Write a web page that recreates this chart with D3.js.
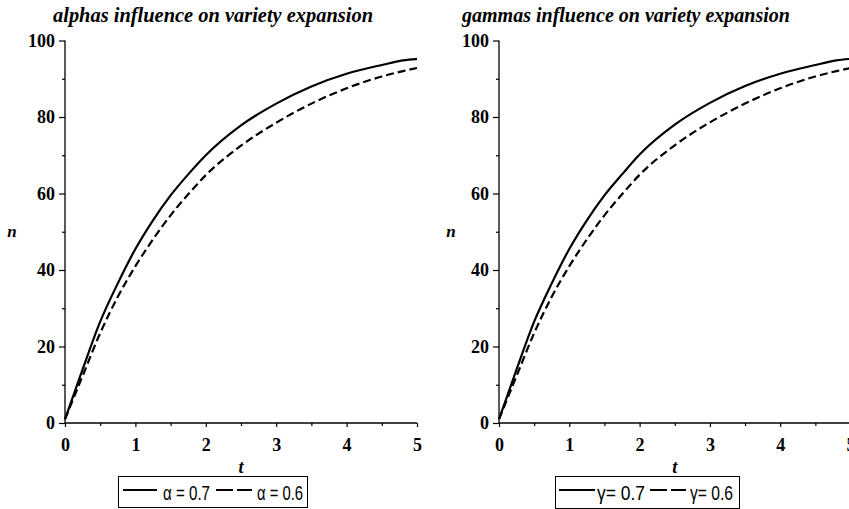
<!DOCTYPE html>
<html>
<head>
<meta charset="utf-8">
<script src="https://cdn.jsdelivr.net/npm/d3@7"></script>
<style>
  html, body { margin: 0; padding: 0; background: #fff; }
  svg { display: block; }
</style>
</head>
<body>
<svg id="chart" width="849" height="509"></svg>
<script>
// ---- data ----
const tValues   = [0, 0.25, 0.5, 0.75, 1, 1.25, 1.5, 1.75, 2, 2.5, 3, 3.5, 4, 4.5, 4.8, 5];
const alphaHigh = [1, 14, 26.5, 36.5, 45.5, 53, 59.5, 65, 70, 77.8, 83.5, 88, 91.3, 93.6, 94.8, 95.2];
const alphaLow  = [1, 12.3, 23.5, 33, 41, 48, 54.3, 59.8, 64.8, 72.5, 78.5, 83.5, 87.5, 90.6, 92, 92.8];
const gammaHigh = [1, 14, 26.5, 36.5, 45.5, 53, 59.5, 65, 70.2, 78, 83.7, 88.1, 91.3, 93.6, 94.8, 95.2];
const gammaLow  = [1, 12.3, 23.5, 33, 41, 48, 54.3, 59.8, 64.9, 72.6, 78.6, 83.5, 87.5, 90.6, 92, 92.8];
const xMajorTicks = [0, 1, 2, 3, 4, 5];
const xMinorTicks = [0.5, 1.5, 2.5, 3.5, 4.5];
const yMajorTicks = [0, 20, 40, 60, 80, 100];
const yMinorTicks = [10, 30, 50, 70, 90];
const titles = ["alphas influence on variety expansion", "gammas influence on variety expansion"];
const legendLabels = [["α = 0.7", "α = 0.6"], ["γ= 0.7", "γ= 0.6"]];

const svg = d3.select("#chart");
const serif = "'Liberation Serif', 'Times New Roman', serif";
const sans = "'Liberation Sans', Arial, sans-serif";

const panels = [
  { x0: 65, x1: 417, high: alphaHigh, low: alphaLow, title: titles[0], titleX: 53, titleW: 320,
    nX: 12, legend: legendLabels[0],
    box: [118, 476, 189, 31], solid: [123, 157], t1: [163, 47], dash: [216, 252], t2: [257, 46] },
  { x0: 499, x1: 850.5, high: gammaHigh, low: gammaLow, title: titles[1], titleX: 462, titleW: 328,
    nX: 451, legend: legendLabels[1],
    box: [555, 476, 184, 32], solid: [559, 595], t1: [597, 48], dash: [650, 686], t2: [690, 43] }
];

const yTop = 40.5, yBot = 423;

panels.forEach(p => {
  const x = d3.scaleLinear().domain([0, 5]).range([p.x0, p.x1]);
  const y = d3.scaleLinear().domain([0, 100]).range([yBot, yTop]);
  const g = svg.append("g");

  // title
  g.append("text")
    .attr("x", p.titleX).attr("y", 22)
    .attr("textLength", p.titleW).attr("lengthAdjust", "spacingAndGlyphs")
    .style("font-family", serif).style("font-weight", "bold").style("font-style", "italic")
    .style("font-size", "20px").text(p.title);

  // y axis
  const yAxis = g.append("g").attr("transform", `translate(${p.x0},0)`)
    .call(d3.axisLeft(y).tickValues(yMajorTicks).tickSize(6).tickPadding(4).tickFormat(d3.format("d")));
  g.append("g").attr("transform", `translate(${p.x0},0)`)
    .call(d3.axisLeft(y).tickValues(yMinorTicks).tickSize(3).tickFormat(""))
    .select(".domain").remove();

  // x axis
  const xAxis = g.append("g").attr("transform", `translate(0,${yBot})`)
    .call(d3.axisBottom(x).tickValues(xMajorTicks).tickSize(4).tickPadding(11).tickFormat(d3.format("d")));
  g.append("g").attr("transform", `translate(0,${yBot})`)
    .call(d3.axisBottom(x).tickValues(xMinorTicks).tickSize(3).tickFormat(""))
    .select(".domain").remove();

  yAxis.select(".domain").remove();
  xAxis.select(".domain").remove();
  g.append("line").attr("x1", p.x0).attr("x2", p.x0).attr("y1", y(100)).attr("y2", y(0))
    .attr("stroke", "#000").attr("stroke-width", 1.3);
  g.append("line").attr("x1", x(0)).attr("x2", x(5)).attr("y1", y(0)).attr("y2", y(0))
    .attr("stroke", "#000").attr("stroke-width", 1.3);

  g.selectAll(".tick line").attr("stroke", "#000").attr("stroke-width", 1.2);
  g.selectAll(".tick text")
    .style("font-family", serif).style("font-weight", "bold").style("font-size", "18px").attr("fill", "#000");

  // axis labels
  g.append("text").attr("x", (p.x0 + p.x1) / 2).attr("y", 473).attr("text-anchor", "middle")
    .style("font-family", serif).style("font-weight", "bold").style("font-style", "italic")
    .style("font-size", "18px").text("t");
  g.append("text").attr("x", p.nX).attr("y", 237).attr("text-anchor", "middle")
    .style("font-family", serif).style("font-weight", "bold").style("font-style", "italic")
    .style("font-size", "17px").text("n");

  // curves
  const line = d3.line().x((d, i) => x(tValues[i])).y(d => y(d)).curve(d3.curveMonotoneX);
  g.append("path").datum(p.high).attr("d", line)
    .attr("fill", "none").attr("stroke", "#000").attr("stroke-width", 2.2);
  g.append("path").datum(p.low).attr("d", line)
    .attr("fill", "none").attr("stroke", "#000").attr("stroke-width", 2.2)
    .attr("stroke-dasharray", "8,4");

  // legend
  const [bx, by, bw, bh] = p.box;
  g.append("rect").attr("x", bx + 0.5).attr("y", by + 0.5).attr("width", bw).attr("height", bh)
    .attr("fill", "#fff").attr("stroke", "#000").attr("stroke-width", 1);
  const ly = by + 14;
  g.append("line").attr("x1", p.solid[0]).attr("x2", p.solid[1]).attr("y1", ly).attr("y2", ly)
    .attr("stroke", "#000").attr("stroke-width", 2);
  g.append("line").attr("x1", p.dash[0]).attr("x2", p.dash[1]).attr("y1", ly).attr("y2", ly)
    .attr("stroke", "#000").attr("stroke-width", 2).attr("stroke-dasharray", "17,4");
  [[p.t1, p.legend[0]], [p.t2, p.legend[1]]].forEach(([pos, lab]) => {
    g.append("text").attr("x", pos[0]).attr("y", by + 24)
      .attr("textLength", pos[1]).attr("lengthAdjust", "spacingAndGlyphs")
      .style("font-family", sans).style("font-size", "20px").text(lab);
  });
});
</script>
</body>
</html>
